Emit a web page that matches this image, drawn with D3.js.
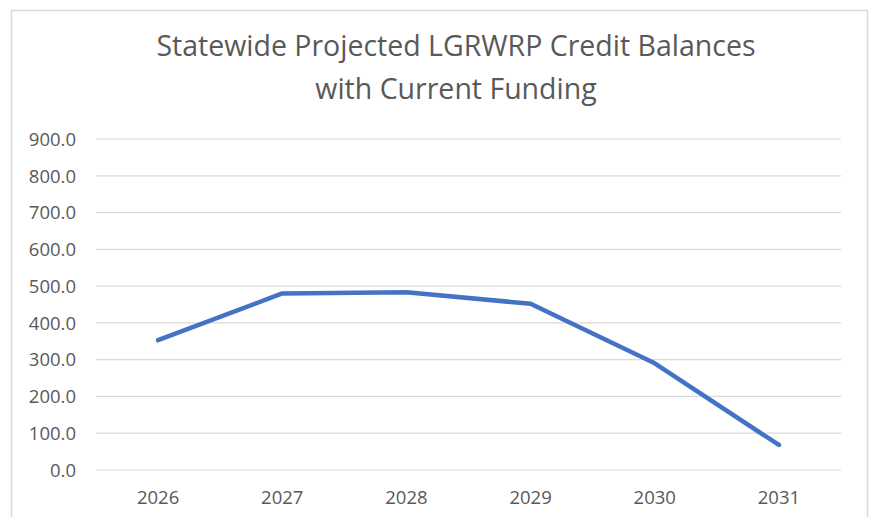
<!DOCTYPE html>
<html><head><meta charset="utf-8">
<script src="https://cdn.jsdelivr.net/npm/d3@7"></script>
<style>body{margin:0;background:#fff}svg{display:block}</style>
</head><body>
<svg id="c" width="870" height="517"></svg>
<script>
const categories = ["2026","2027","2028","2029","2030","2031"];
const values = [353, 480, 483, 452, 290, 68];
const yTicks = [0,100,200,300,400,500,600,700,800,900];
const titleLines = ["Statewide Projected LGRWRP Credit Balances","with Current Funding"];

const svg = d3.select("#c");
const font = "'Open Sans', 'Noto Sans', sans-serif";
svg.append("rect").attr("x",11.5).attr("y",10.5).attr("width",856).attr("height",520)
  .attr("fill","#fff").attr("stroke","#d9d9d9").attr("stroke-width",1.5);

const x = d3.scaleBand().domain(categories).range([96,841]);
const y = d3.scaleLinear().domain([0,900]).range([470,139]);

svg.append("g").selectAll("line").data(yTicks).join("line")
  .attr("x1",96).attr("x2",841).attr("y1",d=>y(d)).attr("y2",d=>y(d))
  .attr("stroke","#d9d9d9").attr("stroke-width",1.2);

const ya = svg.append("g").attr("transform","translate(76,0)")
  .call(d3.axisLeft(y).tickValues(yTicks).tickFormat(d3.format(".1f")).tickSize(0).tickPadding(0));
ya.select(".domain").remove();
ya.selectAll("text").attr("font-family",font).attr("font-size",18.5).attr("fill","#595959").attr("dy","0.34em");

const xa = svg.append("g").attr("transform","translate(0,470)")
  .call(d3.axisBottom(x).tickSize(0).tickPadding(0));
xa.select(".domain").remove();
xa.selectAll("text").attr("font-family",font).attr("font-size",18.5).attr("fill","#595959").attr("dy",null).attr("y",34);

const line = d3.line().x((d,i)=>x(categories[i])+x.bandwidth()/2).y(d=>y(d));
svg.append("path").datum(values).attr("d",line).attr("fill","none")
  .attr("stroke","#4472C4").attr("stroke-width",4.5).attr("stroke-linejoin","round").attr("stroke-linecap","round");

svg.append("g").selectAll("text").data(titleLines).join("text")
  .attr("x",456).attr("y",(d,i)=>56+i*43).attr("text-anchor","middle")
  .attr("font-family",font).attr("font-size",28.5).attr("fill","#595959").text(d=>d);
</script>
</body></html>
